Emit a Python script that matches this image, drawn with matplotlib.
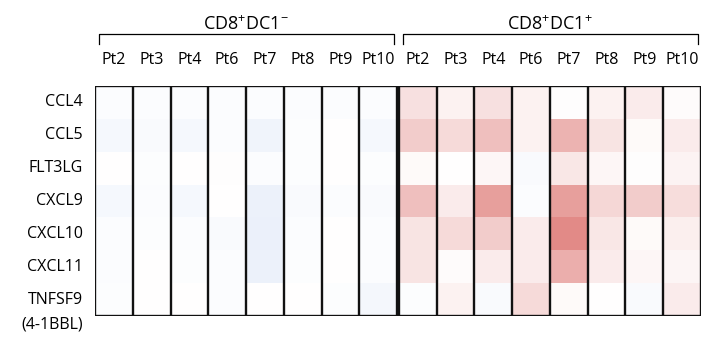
import numpy as np
import matplotlib
matplotlib.use("Agg")
import matplotlib.pyplot as plt
from matplotlib.colors import LinearSegmentedColormap

plt.rcParams['font.family'] = ['Open Sans', 'DejaVu Sans']
plt.rcParams['mathtext.default'] = 'regular'

# data
genes = ['CCL4', 'CCL5', 'FLT3LG', 'CXCL9', 'CXCL10', 'CXCL11', 'TNFSF9']
patients = ['Pt2', 'Pt3', 'Pt4', 'Pt6', 'Pt7', 'Pt8', 'Pt9', 'Pt10']
groups = ['CD8$^{+}$DC1$^{-}$', 'CD8$^{+}$DC1$^{+}$']

# relative expression, CD8+DC1- (rows = genes, cols = patients)
dc1_neg = [
    [-0.02, -0.02, -0.02, -0.02, -0.02, -0.02, -0.02, -0.02],
    [-0.04, -0.03, -0.04, -0.02, -0.07, -0.01, 0.00, -0.04],
    [0.00, -0.01, 0.00, 0.01, -0.02, -0.01, 0.00, -0.01],
    [-0.04, -0.02, -0.04, 0.00, -0.08, -0.03, -0.02, -0.03],
    [-0.02, -0.01, -0.02, -0.03, -0.09, -0.02, 0.00, -0.02],
    [-0.02, 0.00, -0.01, -0.02, -0.08, -0.01, 0.00, -0.02],
    [-0.01, 0.00, 0.00, -0.02, 0.00, 0.00, -0.01, -0.05],
]
# relative expression, CD8+DC1+
dc1_pos = [
    [0.15, 0.07, 0.15, 0.07, 0.01, 0.07, 0.10, 0.02],
    [0.25, 0.18, 0.32, 0.07, 0.38, 0.14, 0.03, 0.10],
    [0.03, 0.00, 0.04, -0.03, 0.12, 0.04, 0.01, 0.06],
    [0.32, 0.10, 0.48, -0.02, 0.48, 0.20, 0.25, 0.17],
    [0.14, 0.18, 0.25, 0.10, 0.58, 0.12, 0.03, 0.08],
    [0.14, 0.02, 0.10, 0.10, 0.40, 0.10, 0.04, 0.05],
    [-0.01, 0.07, -0.03, 0.18, 0.03, 0.00, -0.03, 0.10],
]

cmap = LinearSegmentedColormap.from_list('bwr_soft', ['#1e5ac8', '#ffffff', '#cd3732'])

fig = plt.figure(figsize=(7.05, 3.37), dpi=100)
ax = fig.add_axes([95 / 705, 1 - 316 / 337, 606 / 705, 230 / 337])

n_rows = len(genes)
n_pat = len(patients)
gap = 0.05
offsets = [0, n_pat + gap]
ys = np.arange(n_rows + 1)

for g, data in enumerate([dc1_neg, dc1_pos]):
    x0 = offsets[g]
    xs = x0 + np.arange(n_pat + 1)
    ax.pcolormesh(xs, ys, np.array(data), cmap=cmap, vmin=-1, vmax=1)
    # column borders
    for xv in xs:
        ax.plot([xv, xv], [0, n_rows], color='#111111', lw=1.7, solid_capstyle='projecting')
    ax.plot([x0, x0 + n_pat], [0, 0], color='#111111', lw=1.7, solid_capstyle='projecting')
    ax.plot([x0, x0 + n_pat], [n_rows, n_rows], color='#111111', lw=1.7, solid_capstyle='projecting')

    # column labels
    for i, p in enumerate(patients):
        ax.text(x0 + i + 0.5, -0.78, p, ha='center', va='center', fontsize=11.5)
    # bracket
    bx0, bx1 = x0 + 0.1, x0 + n_pat - 0.08
    ax.plot([bx0, bx0, bx1, bx1], [-1.28, -1.58, -1.58, -1.28], color='black', lw=0.9, clip_on=False)
    ax.text(x0 + n_pat / 2, -1.88, groups[g], ha='center', va='center', fontsize=13)

# row labels
for j, gname in enumerate(genes):
    ax.text(-0.33, j + 0.5, gname, ha='right', va='center', fontsize=11.5)
ax.text(-0.33, 7.27, '(4-1BBL)', ha='right', va='center', fontsize=11.5)

ax.set_xlim(0, 2 * n_pat + gap)
ax.set_ylim(n_rows, 0)
ax.axis('off')

fig.savefig('out.png', dpi=100)
